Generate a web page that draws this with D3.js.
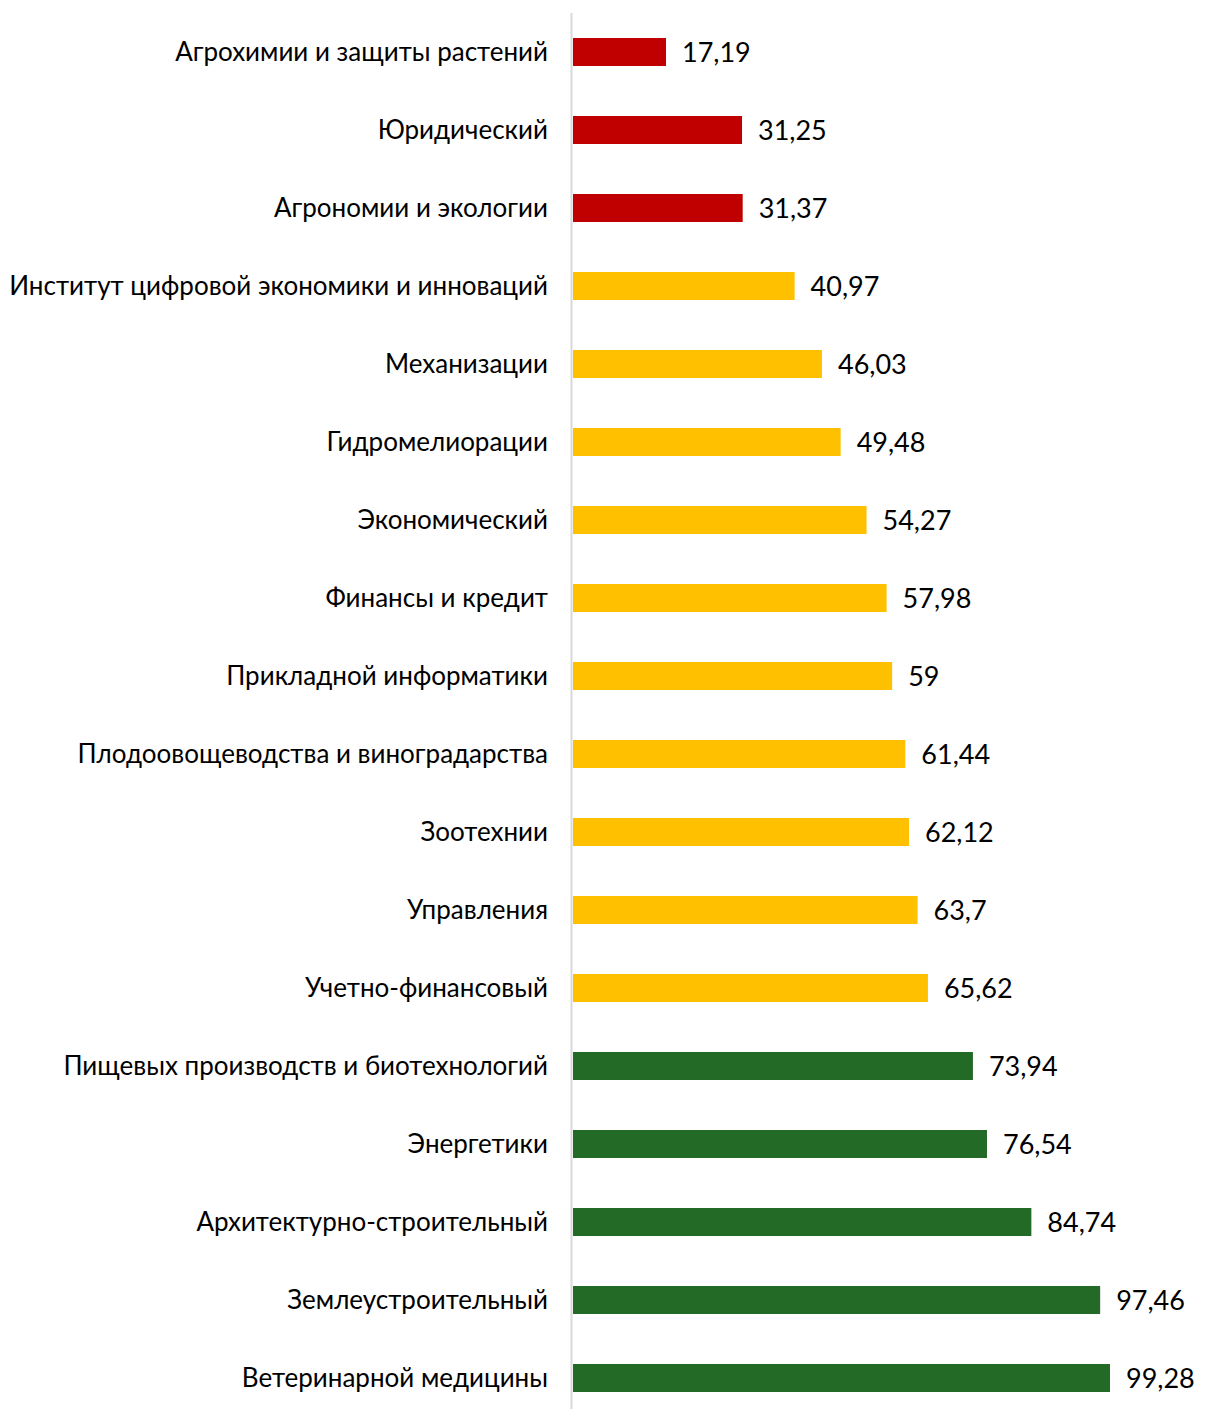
<!DOCTYPE html>
<html><head><meta charset="utf-8">
<script src="https://cdn.jsdelivr.net/npm/d3@7"></script>
<style>html,body{margin:0;padding:0;background:#fff;}</style>
</head><body>
<script>
const categories = [
  "Агрохимии и защиты растений","Юридический","Агрономии и экологии",
  "Институт цифровой экономики и инноваций","Механизации","Гидромелиорации",
  "Экономический","Финансы и кредит","Прикладной информатики",
  "Плодоовощеводства и виноградарства","Зоотехнии","Управления",
  "Учетно-финансовый","Пищевых производств и биотехнологий","Энергетики",
  "Архитектурно-строительный","Землеустроительный","Ветеринарной медицины"
];
const values = [17.19,31.25,31.37,40.97,46.03,49.48,54.27,57.98,59,61.44,62.12,63.7,65.62,73.94,76.54,84.74,97.46,99.28];
const groups = ["red","red","red","yellow","yellow","yellow","yellow","yellow","yellow","yellow","yellow","yellow","yellow","green","green","green","green","green"];
const colors = {red:"#C00000", yellow:"#FFC000", green:"#236A27"};

const W = 1206, H = 1409;
const svg = d3.select("body").append("svg").attr("width", W).attr("height", H);
const x0 = 573;
const x = d3.scaleLinear().domain([0, 99.28]).range([x0, 1110]);
const step = 78, bh = 28;
const yc = d3.scalePoint().domain(categories).range([52, 52 + step*(categories.length-1)]);

const font = "Lato, 'Open Sans', sans-serif";

svg.selectAll("rect.bar").data(values).enter().append("rect")
  .attr("x", x0).attr("y", (d,i)=>yc(categories[i]) - bh/2)
  .attr("width", d=>x(d)-x0).attr("height", bh)
  .attr("fill", (d,i)=>colors[groups[i]]);

svg.append("line").attr("x1", 571.5).attr("x2", 571.5).attr("y1", 13).attr("y2", H)
  .attr("stroke", "#d9d9d9").attr("stroke-width", 2);

svg.selectAll("text.cat").data(categories).enter().append("text")
  .attr("x", 548).attr("y", d=>yc(d)).attr("dy","0.36em")
  .attr("text-anchor","end").attr("font-family", font).attr("font-size", 26)
  .attr("fill","#000").text(d=>d);

const fmt = v => String(v).replace(".", ",");
svg.selectAll("text.val").data(values).enter().append("text")
  .attr("x", d=>x(d)+16).attr("y", (d,i)=>yc(categories[i])).attr("dy","0.36em")
  .attr("font-family", font).attr("font-size", 27)
  .attr("fill","#000").text(d=>fmt(d));
</script>
</body></html>
